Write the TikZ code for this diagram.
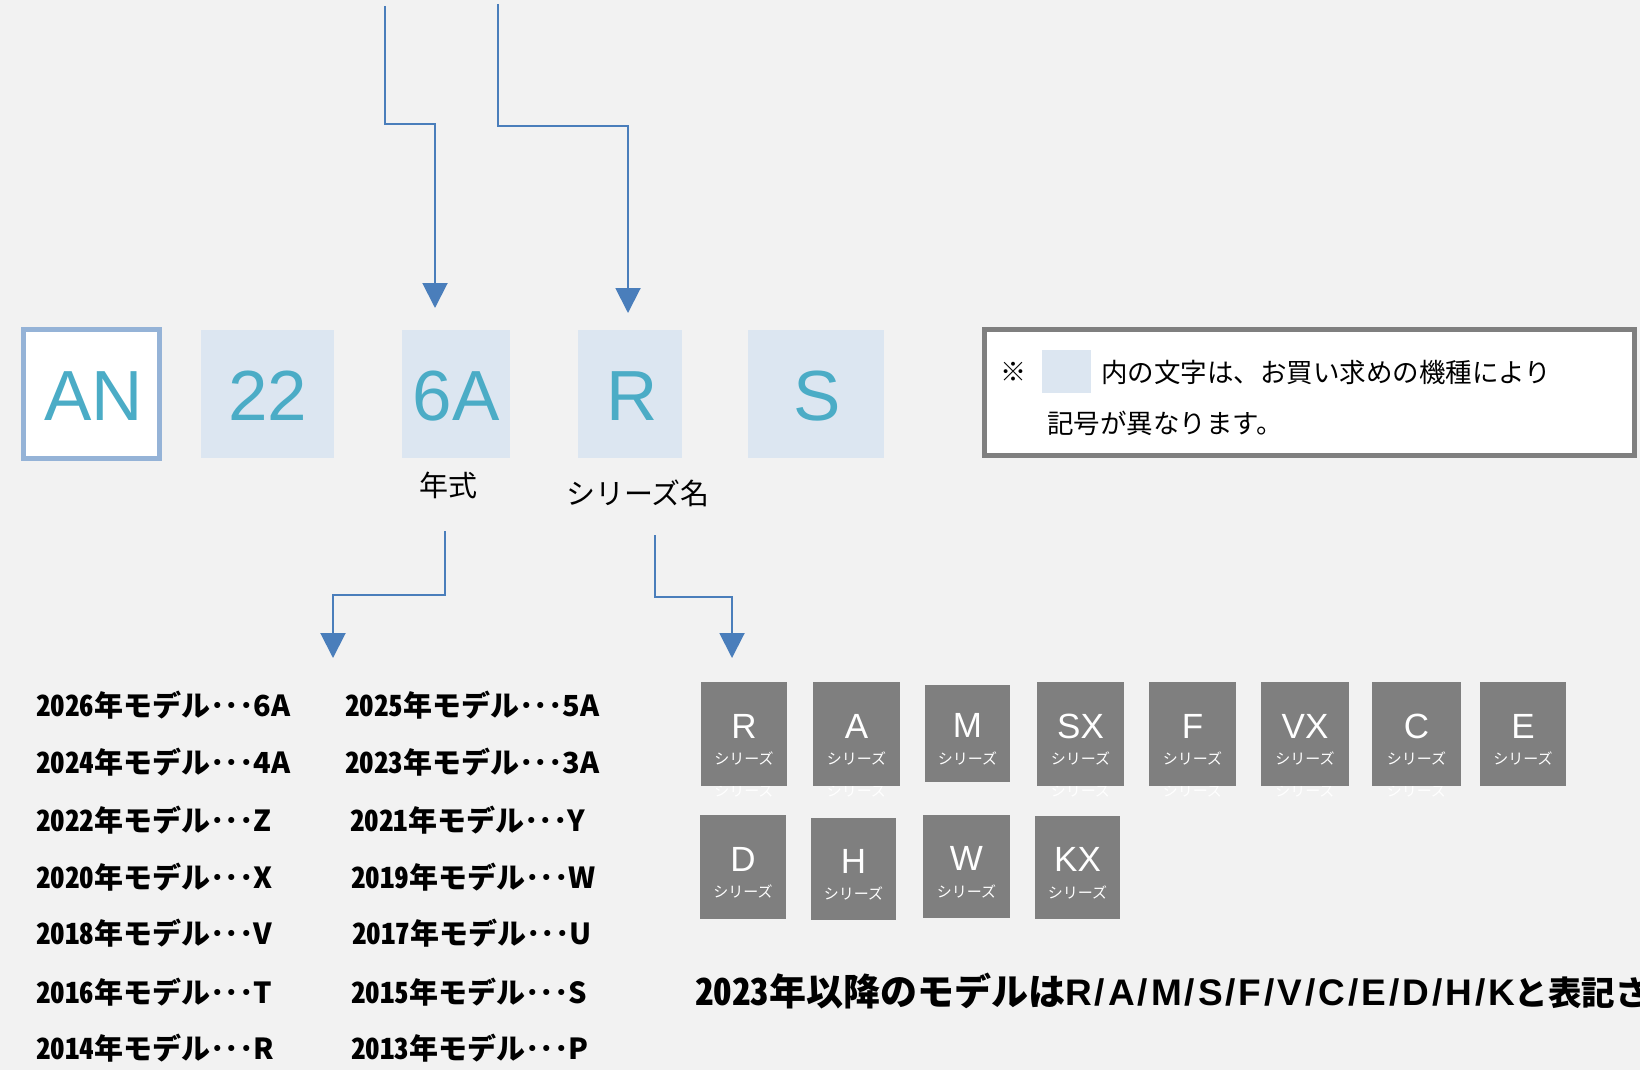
\documentclass[tikz,border=0pt]{standalone}
\usepackage{fontspec}
\setmainfont{Liberation Sans}
\newfontfamily\jp{Noto Sans CJK JP}
\newfontfamily\jph[RawFeature=+hwid]{Noto Sans CJK JP}
\newfontfamily\latb[LetterSpace=8]{Liberation Sans}
\usetikzlibrary{arrows.meta}
\definecolor{bg}{HTML}{F2F2F2}
\definecolor{lineblue}{HTML}{4A7EBB}
\definecolor{boxfill}{HTML}{DCE6F1}
\definecolor{boxedge}{HTML}{95B3D7}
\definecolor{codetext}{HTML}{4BACC6}
\definecolor{sergray}{HTML}{7F7F7F}
\definecolor{noteedge}{HTML}{7F7F7F}
\newcommand\yl[3]{#1年モデル･･･{\jp\bfseries #2}}
\begin{document}
\begin{tikzpicture}[x=1pt,y=-1pt,
  codebox/.style={rectangle, fill=boxfill, inner sep=0pt, text=codetext, font=\fontsize{71}{71}\selectfont},
  conn/.style={draw=lineblue, line width=2pt, -{Triangle[width=25pt,length=25pt]}},
  serbox/.style={rectangle, fill=sergray, inner sep=0pt},
  serletter/.style={text=white, inner sep=0pt, font=\fontsize{35}{35}\selectfont},
  sersub/.style={text=white, inner sep=0pt, font=\jp\fontsize{15}{15}\selectfont},
  yeartext/.style={anchor=west, inner sep=0pt, font=\jph\bfseries\fontsize{29}{29}\selectfont},
  lbltext/.style={inner sep=0pt, font=\jp\fontsize{29}{29}\selectfont},
  notetext/.style={inner sep=0pt, anchor=west, font=\jp\fontsize{26.5}{26.5}\selectfont},
]
\useasboundingbox (0,0) rectangle (1640,1070);
\fill[bg] (0,0) rectangle (1640,1070);

% code boxes
\node[codebox, draw=boxedge, line width=5pt, fill=white, minimum width=136pt, minimum height=129pt] (bAN) at (91.5,394) {};
\node[codebox, minimum width=133pt, minimum height=128pt] (b22) at (267.5,394) {};
\node[codebox, minimum width=108pt, minimum height=128pt] (b6A) at (456,394) {};
\node[codebox, minimum width=104pt, minimum height=128pt] (bR) at (630,394) {};
\node[codebox, minimum width=136pt, minimum height=128pt] (bS) at (816,394) {};
\foreach \b/\t/\dx in {bAN/AN/2, b22/22/0, b6A/6A/0, bR/R/2, bS/S/1}
  \node[codebox, fill=none, draw=none] at ([shift={(\dx,2)}]\b.center) {\t};

\node[lbltext] (lyear) at (448,485) {年式};
\node[lbltext] (lser) at (638,493) {シリーズ名};

% note box
\node[draw=noteedge, line width=5pt, fill=white, minimum width=650pt, minimum height=126pt, inner sep=0pt] (note) at (1309.5,392.5) {};
\node[inner sep=0pt, font=\jp\fontsize{26}{26}\selectfont] (kome) at (1013,372) {※};
\node[fill=boxfill, minimum width=49pt, minimum height=43pt, inner sep=0pt] (sample) at (1066.5,371.5) {};
\node[notetext] (note1) at (1101,372) {内の文字は、お買い求めの機種により};
\node[notetext] (note2) at (1047,423) {記号が異なります。};

% connectors
\coordinate (c1a) at (385,6);
\coordinate (c1b) at (435,308);
\coordinate (c2a) at (498,4);
\coordinate (c2b) at (628,313);
\coordinate (c3a) at (445,531);
\coordinate (c3b) at (333,658);
\coordinate (c4a) at (655,535);
\coordinate (c4b) at (732,658);
\draw[conn] (c1a) -- (385,124) -| (c1b);
\draw[conn] (c2a) -- (498,126) -| (c2b);
\draw[conn] (c3a) -- (445,595) -| (c3b);
\draw[conn] (c4a) -- (655,597) -| (c4b);

% year list
\node[yeartext] (y26) at (36,705) {\yl{2026}{6A}{}};
\node[yeartext] (y24) at (36,762) {\yl{2024}{4A}{}};
\node[yeartext] (y22) at (36,820) {\yl{2022}{Z}{}};
\node[yeartext] (y20) at (36,877) {\yl{2020}{X}{}};
\node[yeartext] (y18) at (36,933) {\yl{2018}{V}{}};
\node[yeartext] (y16) at (36,992) {\yl{2016}{T}{}};
\node[yeartext] (y14) at (36,1048) {\yl{2014}{R}{}};
\node[yeartext] (y25) at (345,705) {\yl{2025}{5A}{}};
\node[yeartext] (y23) at (345,762) {\yl{2023}{3A}{}};
\node[yeartext] (y21) at (350,820) {\yl{2021}{Y}{}};
\node[yeartext] (y19) at (351,877) {\yl{2019}{W}{}};
\node[yeartext] (y17) at (352,933) {\yl{2017}{U}{}};
\node[yeartext] (y15) at (351,992) {\yl{2015}{S}{}};
\node[yeartext] (y13) at (351,1048) {\yl{2013}{P}{}};

% ghost labels (behind boxes)
\foreach \cx in {744,856.5,1080.5,1192.5,1305,1416.5} {
  \node[sersub, text=white] at (\cx,790) {シリーズ};
}
% series boxes
\foreach \nm/\cx/\cy/\w/\h in {R/744/734/86/104, A/856.5/734/87/104, M/967.5/733.5/85/97, SX/1080.5/734/87/104, F/1192.5/734/87/104, VX/1305/734/88/104, C/1416.5/734/89/104, E/1523/734/86/104, D/743/867/86/104, H/853.5/869/85/102, W/966.5/866.5/87/103, KX/1077.5/867.5/85/103} {
  \node[serbox, minimum width=\w pt, minimum height=\h pt] (ser\nm) at (\cx,\cy) {};
  \node[serletter] (serl\nm) at (\cx,{\cy-8}) {\nm};
  \node[sersub] (sers\nm) at (\cx,{\cy+24.5}) {シリーズ};
}

\node[anchor=west, inner sep=0pt, font=\jph\bfseries\fontsize{37}{37}\selectfont] (bottomnote) at (695,991) {2023年以降のモデルは{\latb\bfseries R/A/M/S/F/V/C/E/D/H/K}{\jp\bfseries\fontsize{33.5}{33.5}\selectfont と表記さ}};
\end{tikzpicture}
\end{document}
